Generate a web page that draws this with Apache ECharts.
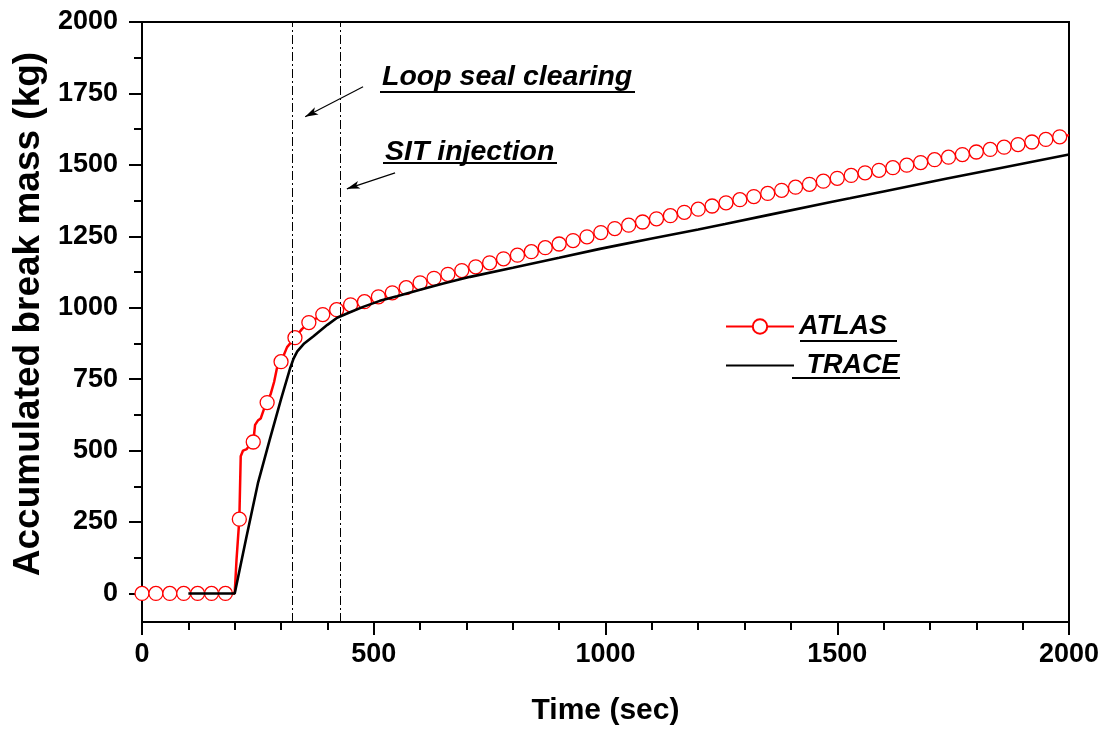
<!DOCTYPE html>
<html>
<head>
<meta charset="utf-8">
<script src="https://cdn.jsdelivr.net/npm/echarts@6/dist/echarts.min.js"></script>
<style>
html,body{margin:0;padding:0;background:#fff;}
#chart{width:1108px;height:730px;}
</style>
</head>
<body>
<div id="chart"></div>
<script>
// ---- data ----
const atlasTime = [0,30,60,90,120,150,180,200,204,210,213,218,226,232,240,244,250,256,262,270,278,285,292,300,313,330,345,360,390,420,450,480,510,540,570,600,630,660,690,720,750,780,810,840,870,900,930,960,990,1020,1050,1080,1110,1140,1170,1200,1230,1260,1290,1320,1350,1380,1410,1440,1470,1500,1530,1560,1590,1620,1650,1680,1710,1740,1770,1800,1830,1860,1890,1920,1950,1980,2000];
const atlasMass = [0,0,0,0,0,0,0,0,120,260,480,500,505,520,530,590,605,612,640,668,700,740,795,811,862,895,925,948,976,993,1010,1021,1038,1052,1070,1087,1103,1117,1130,1143,1157,1171,1184,1196,1210,1223,1235,1248,1263,1277,1289,1300,1311,1322,1334,1345,1356,1367,1378,1389,1400,1411,1422,1432,1443,1453,1463,1472,1481,1490,1499,1508,1518,1527,1536,1545,1554,1562,1571,1580,1589,1598,1604];
const atlasMarkerStep = 30;

const traceTime = [100,200,225,250,275,300,320,327,335,350,370,400,421,450,477,513,550,600,650,708,800,900,988,1031,1100,1200,1258,1350,1484,1527,1600,1737,1850,2000];
const traceMass = [0,0,195,385,535,680,790,822,847,875,900,940,965,985,1003,1024,1040,1063,1085,1108,1140,1175,1206,1220,1242,1274,1293,1324,1369,1383,1407,1452,1488,1536];

const eventTimes = [325, 427];           // loop seal clearing, SIT injection
const eventLabels = ['Loop seal clearing', 'SIT injection'];
const arrowFrom = [[477, 1773], [546, 1472]];
const arrowTo   = [[352, 1668], [442, 1416]];

const yTicks = [0, 250, 500, 750, 1000, 1250, 1500, 1750, 2000];
const yMinorTicks = [125, 375, 625, 875, 1125, 1375, 1625, 1875];

// ---- chart ----
const FONT = '"Liberation Sans", Arial, sans-serif';
const chart = echarts.init(document.getElementById('chart'), null, {renderer: 'canvas'});

const atlasData = atlasTime.map((t, i) => ({
  value: [t, atlasMass[i]],
  symbol: (t % atlasMarkerStep === 0 && t < 2000) ? 'circle' : 'none'
}));
const traceData = traceTime.map((t, i) => [t, traceMass[i]]);

const dashDot = [9, 3, 2, 3];
const markLineData = eventTimes.map(t => ({xAxis: t, lineStyle: {type: dashDot, width: 1, color: '#000'}}));
arrowFrom.forEach((p, i) => {
  markLineData.push([
    {coord: p, symbol: 'none'},
    {coord: arrowTo[i], symbol: 'arrow', symbolSize: [6, 13], lineStyle: {type: 'solid', width: 1.1, color: '#000'}}
  ]);
});

const textBase = {fontFamily: FONT, fontWeight: 'bold', fontStyle: 'italic', fontSize: 28.5, fill: '#000'};
const plain = v => String(v);

chart.setOption({
  animation: false,
  backgroundColor: '#fff',
  grid: {left: 142, right: 39, top: 22, bottom: 108, show: true, borderColor: '#000', borderWidth: 2, containLabel: false, outerBoundsMode: 'none'},
  legend: {
    data: ['ATLAS', {name: 'TRACE', itemStyle: {opacity: 0}}],
    formatter: n => n === 'TRACE' ? ' TRACE' : n,
    orient: 'vertical',
    left: 725, top: 313,
    padding: 0,
    itemWidth: 68, itemHeight: 18, itemGap: 12,
    textStyle: {fontFamily: FONT, fontWeight: 'bold', fontStyle: 'italic', fontSize: 27, color: '#000'}
  },
  xAxis: {
    type: 'value', min: 0, max: 2000, interval: 500,
    name: 'Time (sec)', nameLocation: 'middle', nameGap: 74,
    nameTextStyle: {fontFamily: FONT, fontWeight: 'bold', fontSize: 30, color: '#000'},
    axisLine: {show: true, onZero: false, lineStyle: {color: '#000', width: 2}},
    axisTick: {show: true, inside: false, length: 13, lineStyle: {color: '#000', width: 2}},
    minorTick: {show: true, splitNumber: 5, length: 8, lineStyle: {color: '#000', width: 2}},
    axisLabel: {fontFamily: FONT, fontWeight: 'bold', fontSize: 27, color: '#000', margin: 19, formatter: plain},
    splitLine: {show: false}
  },
  yAxis: [{
    type: 'value', min: -100, max: 2000,
    name: 'Accumulated break mass (kg)', nameLocation: 'middle', nameGap: 88,
    nameTextStyle: {fontFamily: FONT, fontWeight: 'bold', fontSize: 37, color: '#000', padding: [0, 0, 0, 16]},
    axisLine: {show: true, onZero: false, lineStyle: {color: '#000', width: 2}},
    axisTick: {show: true, inside: false, length: 13, customValues: yTicks, lineStyle: {color: '#000', width: 2}},
    axisLabel: {fontFamily: FONT, fontWeight: 'bold', fontSize: 27, color: '#000', margin: 24, customValues: yTicks, formatter: plain},
    splitLine: {show: false}
  }, {
    type: 'value', min: -100, max: 2000, position: 'left',
    axisLine: {show: false},
    axisTick: {show: true, inside: false, length: 8, customValues: yMinorTicks, lineStyle: {color: '#000', width: 2}},
    axisLabel: {show: false},
    splitLine: {show: false}
  }],
  series: [{
    name: 'ATLAS', type: 'line', yAxisIndex: 0, z: 2,
    data: atlasData,
    symbol: 'circle', symbolSize: 14, showAllSymbol: true,
    lineStyle: {color: '#ff0000', width: 2.5},
    itemStyle: {color: '#fff', borderColor: '#ff0000', borderWidth: 1.3},
    emphasis: {disabled: true}
  }, {
    name: 'TRACE', type: 'line', yAxisIndex: 0, z: 3,
    data: traceData,
    symbol: 'none',
    lineStyle: {color: '#000', width: 2.6},
    itemStyle: {color: '#000'},
    emphasis: {disabled: true},
    markLine: {
      silent: true, symbol: ['none', 'none'], label: {show: false},
      animation: false,
      data: markLineData
    }
  }],
  graphic: [
    {type: 'text', left: 382, top: 63, style: Object.assign({text: eventLabels[0]}, textBase)},
    {type: 'line', shape: {x1: 380, y1: 92, x2: 635, y2: 92}, style: {stroke: '#000', lineWidth: 2}},
    {type: 'text', left: 385, top: 138, style: Object.assign({text: eventLabels[1]}, textBase)},
    {type: 'line', shape: {x1: 383, y1: 163, x2: 557, y2: 163}, style: {stroke: '#000', lineWidth: 2}},
    {type: 'line', shape: {x1: 800, y1: 341, x2: 897, y2: 341}, style: {stroke: '#000', lineWidth: 2}},
    {type: 'line', shape: {x1: 792, y1: 378, x2: 900, y2: 378}, style: {stroke: '#000', lineWidth: 2}}
  ]
});
</script>
</body>
</html>
